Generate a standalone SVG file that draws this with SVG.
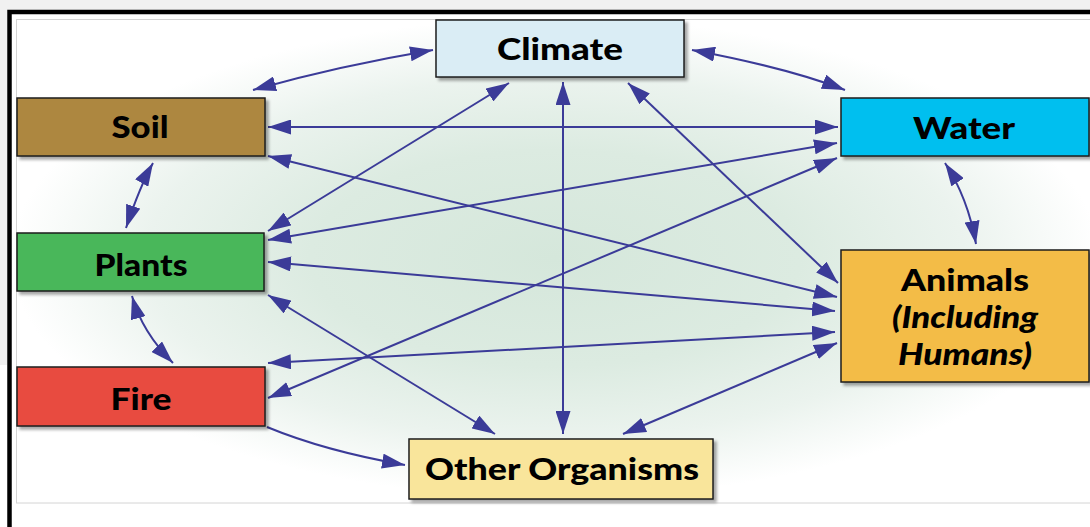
<svg xmlns="http://www.w3.org/2000/svg" width="1090" height="527" viewBox="0 0 1090 527">
<defs>
<radialGradient id="bg" cx="0.5" cy="0.5" r="0.5">
<stop offset="0" stop-color="#d5e7db"/>
<stop offset="0.45" stop-color="#dcebe1"/>
<stop offset="0.75" stop-color="#ebf3ee"/>
<stop offset="1" stop-color="#ffffff"/>
</radialGradient>
<filter id="sh" x="-5%" y="-10%" width="115%" height="130%">
<feDropShadow dx="3" dy="3" stdDeviation="1.5" flood-color="#000" flood-opacity="0.35"/>
</filter>
<marker id="ah" viewBox="0 0 23 15" markerUnits="userSpaceOnUse" markerWidth="23" markerHeight="15" refX="23" refY="7.5" orient="auto-start-reverse">
<path d="M0,0 L23,7.5 L0,15 z" fill="#3b3b98"/>
</marker>
<style>
.box{stroke:#1e1e1e;stroke-width:1.5;filter:url(#sh)}
.lbl{font-family:Lato,"Open Sans","DejaVu Sans",sans-serif;font-weight:900;font-size:31px;fill:#000;text-anchor:middle}
.it{font-style:italic}
.c{fill:none;stroke:#3b3b98;stroke-width:2}
.d{marker-start:url(#ah);marker-end:url(#ah)}
.s{marker-end:url(#ah)}
</style>
</defs>
<rect x="0" y="0" width="1090" height="527" fill="#ffffff"/>
<rect x="0" y="0" width="1090" height="10" fill="#f1f1f1"/>
<rect x="0" y="0" width="7" height="365" fill="#f1f1f1"/>
<ellipse cx="555" cy="258" rx="545" ry="240" fill="url(#bg)"/>
<rect x="16.5" y="19.5" width="1080" height="483.5" fill="none" stroke="#d4d4d4" stroke-width="1"/>
<path d="M9.5,527 V12 H1090" fill="none" stroke="#000" stroke-width="4.5"/>

<g id="connectors">
<path class="c d" d="M253,90 Q338,66 433,50"/>
<path class="c d" d="M692,50 Q788,68 845,90"/>
<path class="c d" d="M268,127 L838,127"/>
<path class="c d" d="M268,156 L837,297"/>
<path class="c d" d="M628,83 L838,283"/>
<path class="c d" d="M563,82 L563,434"/>
<path class="c d" d="M509,83 L268,231"/>
<path class="c d" d="M837,143 L268,240"/>
<path class="c d" d="M837,158 L268,398"/>
<path class="c d" d="M268,262 L835,311"/>
<path class="c d" d="M268,295 L495,434"/>
<path class="c d" d="M268,363 L835,332"/>
<path class="c s" d="M267,427 Q325,451 405,465"/>
<path class="c d" d="M623,434 L837,343"/>
<path class="c d" d="M153,163 Q140,186 126,228"/>
<path class="c d" d="M132,296 Q142,332 173,363"/>
<path class="c d" d="M945,163 Q968,198 976,244"/>
</g>

<g id="climate">
<rect class="box" x="436" y="20" width="248" height="57" fill="#daedf5"/>
<text class="lbl" x="560" y="60" textLength="126" lengthAdjust="spacingAndGlyphs">Climate</text>
</g>
<g id="soil">
<rect class="box" x="17" y="98" width="248" height="58" fill="#ad8741"/>
<text class="lbl" x="140" y="138" textLength="57" lengthAdjust="spacingAndGlyphs">Soil</text>
</g>
<g id="water">
<rect class="box" x="841" y="98" width="248" height="58" fill="#00bfef"/>
<text class="lbl" x="964" y="139" textLength="102" lengthAdjust="spacingAndGlyphs">Water</text>
</g>
<g id="plants">
<rect class="box" x="17" y="233" width="247" height="58" fill="#48b75a"/>
<text class="lbl" x="141" y="276" textLength="93" lengthAdjust="spacingAndGlyphs">Plants</text>
</g>
<g id="fire">
<rect class="box" x="17" y="367" width="248" height="59" fill="#e84c3f"/>
<text class="lbl" x="141" y="410" textLength="61" lengthAdjust="spacingAndGlyphs">Fire</text>
</g>
<g id="other-organisms">
<rect class="box" x="409" y="439" width="304" height="60" fill="#f9e59b"/>
<text class="lbl" x="562" y="480" textLength="274" lengthAdjust="spacingAndGlyphs">Other Organisms</text>
</g>
<g id="animals">
<rect class="box" x="841" y="250" width="248" height="132" fill="#f3bc46"/>
<text class="lbl" x="965" y="291" textLength="128" lengthAdjust="spacingAndGlyphs">Animals</text>
<text class="lbl it" x="965" y="328" textLength="146" lengthAdjust="spacingAndGlyphs">(Including</text>
<text class="lbl it" x="965" y="365" textLength="134" lengthAdjust="spacingAndGlyphs">Humans)</text>
</g>
</svg>
